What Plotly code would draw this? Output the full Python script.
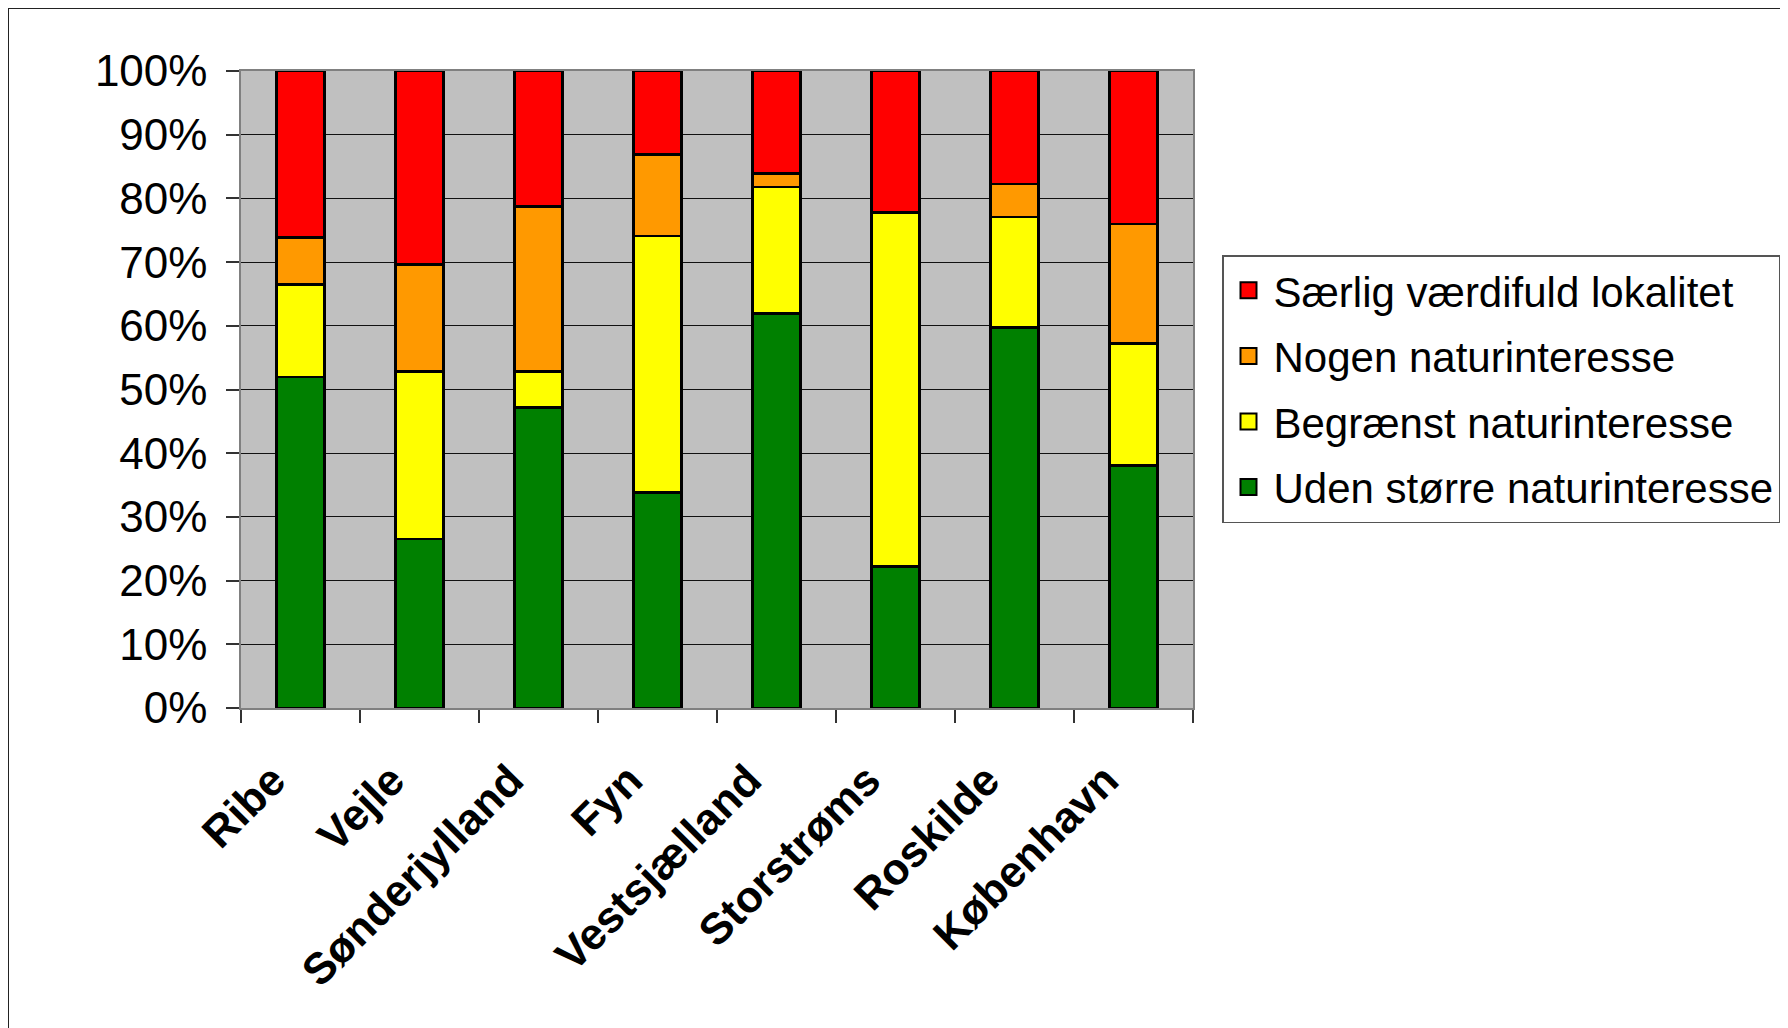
import plotly.graph_objects as go

categories = ["Ribe", "Vejle", "Sønderjylland", "Fyn", "Vestsjælland", "Storstrøms", "Roskilde", "København"]
series_names = ["Uden større naturinteresse", "Begrænst naturinteresse", "Nogen naturinteresse", "Særlig værdifuld lokalitet"]
uden = [52.0, 26.5, 47.2, 33.8, 61.9, 22.2, 59.7, 38.1]
begraenst = [14.5, 26.3, 5.6, 40.3, 19.9, 55.6, 17.4, 19.1]
nogen = [7.4, 16.8, 25.9, 12.8, 2.1, 0.0, 5.2, 18.8]
saerlig = [26.1, 30.4, 21.3, 13.1, 16.1, 22.2, 17.7, 24.0]
colors = ["#008000", "#FFFF00", "#FF9900", "#FF0000"]
y_ticks = [0, 10, 20, 30, 40, 50, 60, 70, 80, 90, 100]
y_tick_labels = [f"{v}%" for v in y_ticks]

# page has an 8px body margin; figure coords = page coords - 8
W, H = 1780, 1020
L, R, T, B = 233, 1185, 63, 700

fig = go.Figure()
for name, vals, col in zip(series_names, [uden, begraenst, nogen, saerlig], colors):
    fig.add_trace(go.Bar(
        x=categories, y=vals, name=name,
        marker=dict(color=col, line=dict(color="black", width=2.5)),
        showlegend=False,
    ))
# legend entries with larger square swatches (top series first)
for name, col in reversed(list(zip(series_names, colors))):
    fig.add_trace(go.Scatter(
        x=[None], y=[None], mode="markers", name=name,
        marker=dict(symbol="square", size=16, color=col, line=dict(color="black", width=2)),
        legendgroup=name, showlegend=True,
    ))

pw, ph = R - L, B - T
def px_x(x):
    return (x - L) / pw
def px_y(y):
    return (B - y) / ph

fig.update_layout(
    width=W, height=H,
    margin=dict(l=L, r=W - R, t=T, b=H - B, pad=0, autoexpand=False),
    barmode="stack", bargap=0.6,
    paper_bgcolor="white", plot_bgcolor="#C0C0C0",
    font=dict(family="Liberation Sans, Arial, sans-serif", size=42, color="black"),
    showlegend=True,
    legend=dict(
        x=px_x(1214), y=px_y(247), xanchor="left", yanchor="top",
        traceorder="grouped", bgcolor="white",
        bordercolor="#555555", borderwidth=1.5,
        font=dict(size=42), tracegroupgap=8, itemwidth=40,
    ),
    xaxis=dict(
        type="category", tickangle=-45,
        tickfont=dict(size=44, family="Liberation Sans, Arial, sans-serif", color="black", weight="bold"),
        ticks="outside", tickson="boundaries", ticklen=13, tickcolor="#333333", tickwidth=1.5,
        ticklabelstandoff=27, ticklabelshift=-28,
        showline=True, linecolor="#808080", linewidth=1.5, mirror=True,
        showgrid=False,
    ),
    yaxis=dict(
        range=[0, 100], tickvals=y_ticks, ticktext=y_tick_labels,
        tickfont=dict(size=44),
        ticks="outside", ticklen=13, tickcolor="#333333", tickwidth=1.5,
        ticklabelstandoff=10,
        showgrid=True, gridcolor="#111111", gridwidth=1.2,
        zeroline=True, zerolinecolor="#111111", zerolinewidth=1.2,
        showline=True, linecolor="#808080", linewidth=1.5, mirror=True,
    ),
    shapes=[dict(
        type="rect", xref="paper", yref="paper",
        x0=px_x(0), x1=px_x(W + 50), y0=px_y(H + 50), y1=px_y(0),
        line=dict(color="#222222", width=2), fillcolor="rgba(0,0,0,0)", layer="below",
    )],
)

fig.write_html("out.html")
